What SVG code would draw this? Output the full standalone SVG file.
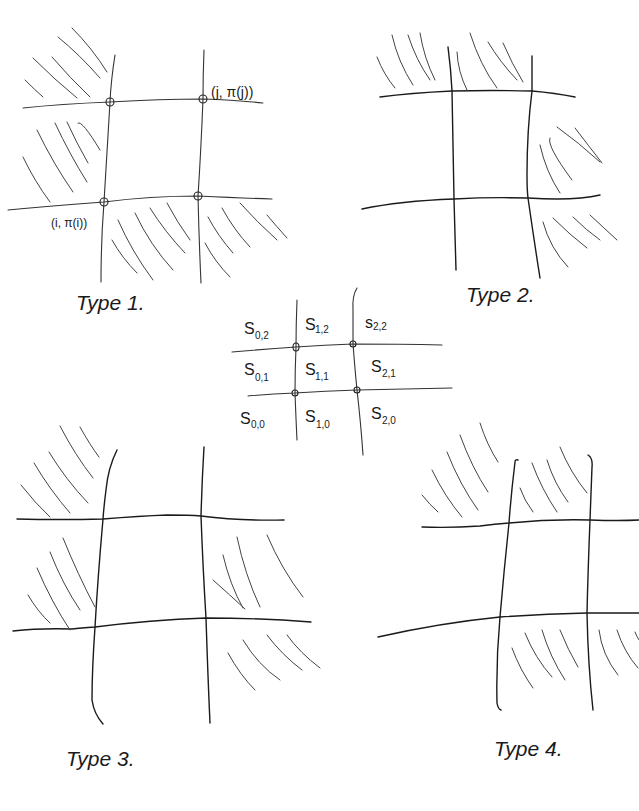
<svg xmlns="http://www.w3.org/2000/svg" width="639" height="811" viewBox="0 0 639 811">
<style>
.ln{fill:none;stroke:#1a1a1a;stroke-width:1.4;stroke-linecap:round}
.lt{fill:none;stroke:#333;stroke-width:1.1;stroke-linecap:round}
.h{fill:none;stroke:#444;stroke-width:1;stroke-linecap:round}
.c{fill:none;stroke:#222;stroke-width:1.1}
.t{font-family:"Liberation Sans","DejaVu Sans",sans-serif;fill:#1a1a1a}
.ty{font-family:"Liberation Sans","DejaVu Sans",sans-serif;font-size:21px;fill:#1a1a1a;font-style:italic}
.s{font-family:"Liberation Sans","DejaVu Sans",sans-serif;font-size:16px;fill:#1a1a1a}
.sb{font-family:"Liberation Sans","DejaVu Sans",sans-serif;font-size:10px;fill:#1a1a1a}
</style>
<rect width="639" height="811" fill="#fff"/>

<g id="type1">
  <path class="lt" d="M115 55 Q111 80 110 102 Q107 150 104 202 Q101 240 101 282"/>
  <path class="lt" d="M204 50 Q203 75 203 99 Q201 150 198 196 Q199 240 201 283"/>
  <path class="lt" d="M23 108 Q60 104 110 102 Q160 99 203 99 Q235 100 263 103"/>
  <path class="lt" d="M8 210 Q50 206 104 202 Q150 196 198 196 Q240 198 272 199"/>
  <circle class="c" cx="110" cy="102" r="4"/>
  <circle class="c" cx="203" cy="99" r="4"/>
  <circle class="c" cx="104" cy="202" r="4"/>
  <circle class="c" cx="198" cy="196" r="4"/>
  <text class="t" x="211" y="97" font-size="14">(j, π(j))</text>
  <text class="t" x="51" y="227" font-size="12">(i, π(i))</text>
  <g class="h">
    <path d="M72 28 Q92 48 107 72"/>
    <path d="M58 37 Q80 55 100 78"/>
    <path d="M52 57 Q70 78 90 97"/>
    <path d="M33 58 Q55 80 77 98"/>
    <path d="M25 80 Q35 90 43 97"/>
    <path d="M78 123 Q82 120 100 150"/>
    <path d="M67 122 Q76 142 88 163"/>
    <path d="M55 123 Q70 155 87 182"/>
    <path d="M37 130 Q54 165 73 192"/>
    <path d="M23 157 Q35 182 50 202"/>
    <path d="M135 213 Q150 245 173 270"/>
    <path d="M118 220 Q132 252 153 280"/>
    <path d="M112 240 Q122 258 137 273"/>
    <path d="M150 208 Q165 232 185 253"/>
    <path d="M167 203 Q177 222 190 240"/>
    <path d="M208 217 Q218 236 233 253"/>
    <path d="M222 208 Q234 230 250 247"/>
    <path d="M240 203 Q257 222 277 240"/>
    <path d="M267 215 Q277 227 287 238"/>
    <path d="M205 243 Q215 262 230 277"/>
  </g>
  <text class="ty" x="76" y="310">Type 1.</text>
</g>

<g id="type2">
  <path class="ln" d="M448 47 Q451 70 452 91 Q453 150 454 199 Q455 240 456 270"/>
  <path class="ln" d="M532 56 Q532 75 532 91 Q527 130 527 175 Q527 190 528 198 Q534 240 540 278"/>
  <path class="ln" d="M380 97 Q410 93 452 91 Q492 90 532 91 Q555 93 575 97"/>
  <path class="ln" d="M362 209 Q400 201 454 199 Q490 197 528 198 Q575 201 600 195"/>
  <g class="h">
    <path d="M377 57 Q384 75 395 88"/>
    <path d="M392 35 Q398 62 413 85"/>
    <path d="M408 35 Q416 60 430 80"/>
    <path d="M420 33 Q424 58 435 80"/>
    <path d="M457 52 Q458 72 467 90"/>
    <path d="M470 33 Q480 65 497 88"/>
    <path d="M488 42 Q500 62 517 80"/>
    <path d="M503 43 Q512 64 523 82"/>
    <path d="M557 127 Q578 142 600 162"/>
    <path d="M575 128 Q588 145 602 163"/>
    <path d="M550 138 Q546 145 572 180"/>
    <path d="M540 145 Q546 172 560 193"/>
    <path d="M543 222 Q550 248 568 267"/>
    <path d="M553 218 Q570 235 587 248"/>
    <path d="M573 217 Q586 230 600 240"/>
    <path d="M590 215 Q604 228 617 240"/>
  </g>
  <text class="ty" x="466" y="302">Type 2.</text>
</g>

<g id="grid">
  <path class="lt" d="M297 300 Q296 325 296 347 Q295 370 295 393 Q296 420 297 440"/>
  <path class="lt" d="M357 288 Q352 296 353 310 Q353 328 353 344 Q355 370 357 390 Q361 425 363 455"/>
  <path class="lt" d="M232 352 Q265 349 296 347 Q325 345 353 344 Q400 344 442 345"/>
  <path class="lt" d="M248 396 Q270 394 295 393 Q325 391 357 390 Q405 389 452 388"/>
  <ellipse class="c" cx="296" cy="347" rx="3" ry="4"/>
  <circle class="c" cx="353" cy="344" r="3"/>
  <circle class="c" cx="295" cy="393" r="3"/>
  <circle class="c" cx="357" cy="390" r="3"/>
  <text class="s" x="244" y="334">S</text><text class="sb" x="255" y="339">0,2</text>
  <text class="s" x="305" y="330">S</text><text class="sb" x="315" y="333">1,2</text>
  <text class="s" x="365" y="328" font-size="13">s</text><text class="sb" x="373" y="330">2,2</text>
  <text class="s" x="244" y="375">S</text><text class="sb" x="255" y="381">0,1</text>
  <text class="s" x="305" y="375">S</text><text class="sb" x="315" y="380">1,1</text>
  <text class="s" x="371" y="372">S</text><text class="sb" x="382" y="377">2,1</text>
  <text class="s" x="240" y="424">S</text><text class="sb" x="251" y="428">0,0</text>
  <text class="s" x="305" y="422">S</text><text class="sb" x="316" y="428">1,0</text>
  <text class="s" x="371" y="419">S</text><text class="sb" x="382" y="424">2,0</text>
</g>

<g id="type3">
  <path class="ln" d="M117 450 Q108 468 106 490 Q104 505 103 519 Q98 575 95 627 Q92 670 92 700 Q94 714 103 724"/>
  <path class="ln" d="M204 447 Q202 480 201 516 Q203 570 206 618 Q208 680 210 723"/>
  <path class="ln" d="M17 519 Q60 520 103 519 Q140 516 167 515 Q190 515 201 516 Q240 521 284 520"/>
  <path class="ln" d="M13 631 Q40 628 72 629 Q80 628 95 627 Q150 620 206 618 Q260 618 311 622"/>
  <g class="h">
    <path d="M60 426 Q75 455 93 478"/>
    <path d="M80 427 Q90 445 99 457"/>
    <path d="M49 452 Q66 480 88 503"/>
    <path d="M34 463 Q50 490 70 513"/>
    <path d="M21 485 Q35 503 50 517"/>
    <path d="M63 538 Q78 575 95 607"/>
    <path d="M50 552 Q63 585 80 610"/>
    <path d="M37 568 Q52 603 70 630"/>
    <path d="M28 595 Q38 612 50 623"/>
    <path d="M237 537 Q245 575 260 607"/>
    <path d="M267 535 Q282 570 303 597"/>
    <path d="M223 555 Q230 585 243 608"/>
    <path d="M213 580 Q230 595 245 609"/>
    <path d="M243 640 Q258 665 280 680"/>
    <path d="M267 635 Q282 655 302 670"/>
    <path d="M287 635 Q300 653 320 668"/>
    <path d="M228 653 Q240 675 255 690"/>
  </g>
  <text class="ty" x="66" y="766">Type 3.</text>
</g>

<g id="type4">
  <path class="ln" d="M518 460 Q515 459 515 462 Q511 495 509 523 Q504 570 500 617 Q496 660 497 703 Q498 709 501 710"/>
  <path class="ln" d="M588 455 Q593 458 592 467 Q591 495 590 520 Q588 570 587 613 Q588 665 593 710"/>
  <path class="ln" d="M422 527 Q450 528 480 526 Q495 524 509 523 Q550 519 590 520 Q620 521 639 520"/>
  <path class="ln" d="M378 637 Q440 623 500 617 Q545 614 587 613 Q615 613 639 613"/>
  <g class="h">
    <path d="M480 423 Q487 445 498 462"/>
    <path d="M460 435 Q472 468 488 492"/>
    <path d="M447 452 Q460 485 478 510"/>
    <path d="M432 470 Q445 497 462 517"/>
    <path d="M422 495 Q430 505 438 512"/>
    <path d="M520 488 Q524 500 533 512"/>
    <path d="M532 463 Q542 490 557 512"/>
    <path d="M547 460 Q554 483 568 502"/>
    <path d="M560 447 Q570 472 587 493"/>
    <path d="M512 648 Q520 670 533 688"/>
    <path d="M525 633 Q535 658 552 677"/>
    <path d="M542 630 Q550 657 565 680"/>
    <path d="M560 630 Q568 650 578 667"/>
    <path d="M599 630 Q602 655 618 675"/>
    <path d="M617 630 Q624 652 638 668"/>
    <path d="M635 632 Q637 637 639 640"/>
  </g>
  <text class="ty" x="494" y="756">Type 4.</text>
</g>
</svg>
